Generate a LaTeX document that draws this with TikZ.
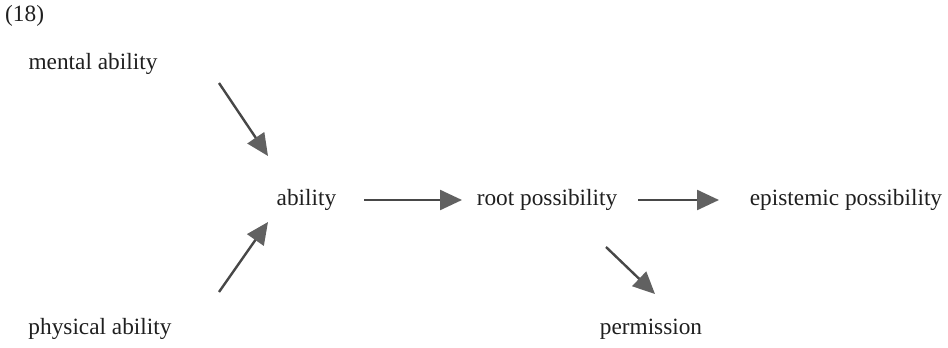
\documentclass[tikz,border=0pt]{standalone}
\usepackage{fontspec}
\setmainfont{Liberation Serif}
\usetikzlibrary{arrows.meta}
\begin{document}
\begin{tikzpicture}[x=1pt,y=-1pt,
  lbl/.style={inner sep=0pt,font=\fontsize{23.3}{27}\selectfont,text=black!88},
  conn/.style={draw=black!72,line width=2.4pt,
    -{Triangle[length=22pt,width=20pt,fill=black!62,color=black!62]}}]
\useasboundingbox (0,0) rectangle (948,348);
\node[lbl,anchor=west] (num) at (5,16) {(18)};
\node[lbl] (mental) at (93,64) {mental ability};
\node[lbl] (ability) at (306.5,200) {ability};
\node[lbl] (root) at (547,200) {root possibility};
\node[lbl] (epi) at (846,200) {epistemic possibility};
\node[lbl] (phys) at (100,329) {physical ability};
\node[lbl] (perm) at (651,329) {permission};
\coordinate (m1) at (219,83);
\coordinate (m2) at (268,156);
\coordinate (p1) at (219,292);
\coordinate (p2) at (268,222);
\coordinate (a1) at (364,200);
\coordinate (a2) at (462,200);
\coordinate (b1) at (638,200);
\coordinate (b2) at (719,200);
\coordinate (r1) at (606,247);
\coordinate (r2) at (655,294);
\draw[conn] (m1) -- (m2);
\draw[conn] (p1) -- (p2);
\draw[conn] (a1) -- (a2);
\draw[conn] (b1) -- (b2);
\draw[conn] (r1) -- (r2);
\end{tikzpicture}
\end{document}
